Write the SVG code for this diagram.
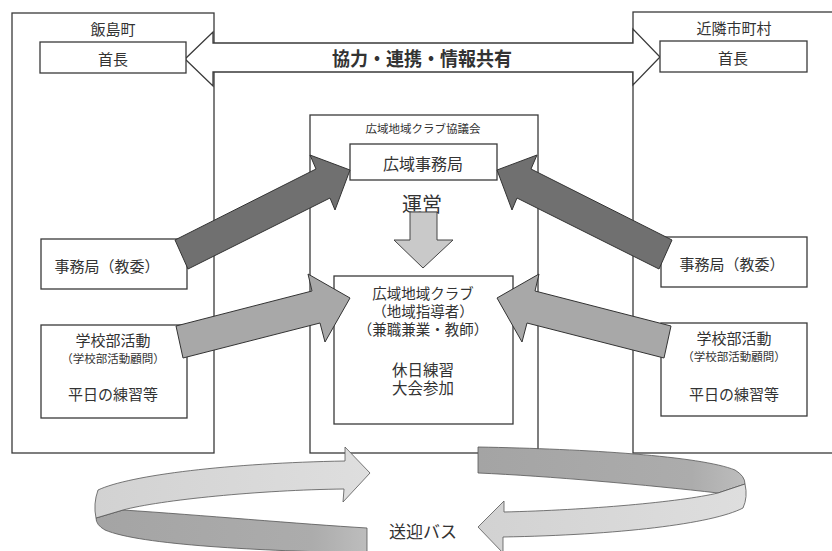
<svg xmlns="http://www.w3.org/2000/svg" width="832" height="551" viewBox="0 0 832 551">
<defs>
<style>
.box{fill:none;stroke:#3a3a3a;stroke-width:1.3}
.wbox{fill:#fff;stroke:#3a3a3a;stroke-width:1.3}
.t{font-family:"Noto Sans CJK JP","Noto Sans CJK SC",sans-serif;fill:#333;text-anchor:middle;dominant-baseline:central}
.dark{fill:#707070;stroke:#333;stroke-width:1}
.mid{fill:#a8a8a8;stroke:#333;stroke-width:1}
.light{fill:#c9c9c9;stroke:#444;stroke-width:1}
.bl{fill:url(#gLight);stroke:#555;stroke-width:0.8}
.bd{fill:url(#gDark);stroke:#555;stroke-width:0.8}
</style>
<linearGradient id="gLight" x1="0" y1="0" x2="1" y2="0">
<stop offset="0" stop-color="#d2d2d2"/><stop offset="1" stop-color="#dedede"/>
</linearGradient>
<linearGradient id="gDark" x1="0" y1="0" x2="1" y2="0">
<stop offset="0" stop-color="#a4a4a4"/><stop offset="0.8" stop-color="#acacac"/><stop offset="1" stop-color="#bdbdbd"/>
</linearGradient>
</defs>
<rect width="832" height="551" fill="#fff"/>

<g id="iijima">
<rect class="box" x="12" y="13" width="202" height="440"/>
<text class="t" x="113" y="28" font-size="15">飯島町</text>
</g>
<g id="kinrin">
<rect class="box" x="633" y="12" width="210" height="441"/>
<text class="t" x="734" y="27" font-size="15">近隣市町村</text>
</g>

<g id="kyoryoku">
<polygon class="wbox" points="185,59 213,32 213,43 633,43 633,29 660,57 633,85 633,72 213,72 213,86"/>
<text class="t" x="422" y="57" font-size="19" font-weight="bold" textLength="180" lengthAdjust="spacingAndGlyphs">協力・連携・情報共有</text>
</g>

<g id="shucho-l">
<rect class="wbox" x="40" y="42" width="146" height="31"/>
<text class="t" x="113" y="58" font-size="15">首長</text>
</g>
<g id="shucho-r">
<rect class="wbox" x="660" y="41" width="147" height="31"/>
<text class="t" x="733" y="57" font-size="15">首長</text>
</g>

<g id="kyogikai">
<rect class="box" x="310" y="115" width="228" height="338"/>
<text class="t" x="423" y="128" font-size="11.5">広域地域クラブ協議会</text>
</g>
<g id="jimukyoku-kouiki">
<rect class="wbox" x="350" y="144" width="147" height="36"/>
<text class="t" x="423" y="163" font-size="16">広域事務局</text>
</g>
<g id="unei">
<text class="t" x="422" y="203" font-size="20">運営</text>
</g>
<g id="club">
<rect class="wbox" x="334" y="276" width="179" height="148"/>
<text class="t" font-size="14.5"><tspan x="423" y="292">広域地域クラブ</tspan><tspan x="423" y="310">（地域指導者）</tspan><tspan x="423" y="328">（兼職兼業・教師）</tspan><tspan x="423" y="369" font-size="15.5">休日練習</tspan><tspan x="423" y="387" font-size="15.5">大会参加</tspan></text>
</g>

<g id="jimu-l">
<rect class="wbox" x="41" y="239" width="146" height="50"/>
<text class="t" x="107" y="265" font-size="15">事務局（教委）</text>
</g>
<g id="bukatsu-l">
<rect class="wbox" x="41" y="325" width="146" height="93"/>
<text class="t" font-size="15"><tspan x="113" y="339">学校部活動</tspan><tspan x="113" y="358" font-size="11.5">（学校部活動顧問）</tspan></text>
<text class="t" x="113" y="393" font-size="15">平日の練習等</text>
</g>
<g id="jimu-r">
<rect class="wbox" x="661" y="237" width="146" height="50"/>
<text class="t" x="732" y="263" font-size="15">事務局（教委）</text>
</g>
<g id="bukatsu-r">
<rect class="wbox" x="661" y="323" width="146" height="93"/>
<text class="t" font-size="15"><tspan x="734" y="337">学校部活動</tspan><tspan x="734" y="356" font-size="11.5">（学校部活動顧問）</tspan></text>
<text class="t" x="734" y="393" font-size="15">平日の練習等</text>
</g>

<g id="connectors">
<polygon class="dark" points="175,240 316,169 310,155 350,170 335,210 330,198 188,269"/>
<polygon class="dark" transform="translate(847,0) scale(-1,1)" points="175,240 316,169 310,155 350,170 335,210 330,198 188,269"/>
<polygon class="mid" points="176,326 312,291 308,274 350,298 325,342 320,323 183,358"/>
<polygon class="mid" transform="translate(847,0) scale(-1,1)" points="176,326 312,291 308,274 350,298 325,342 320,323 183,358"/>
<polygon class="light" points="410,212 437,212 437,240 453,240 423,268 394,240 410,240"/>
<g id="bus-l">
<path class="bd" d="M123,510 C200,515 300,524 367,528 L367,553 C260,551 140,545 105,530 Q96,525 96,518 Z"/>
<path class="bl" d="M370,473 L343,502 L344,489 C260,490 160,500 123,510 L96,518 Q93,504 98,490 C130,475 230,463 345,461 L345,447 Z"/>
</g>
<g id="bus-r">
<path class="bd" d="M718,493 C648,485 548,476 478,473 L478,447 C588,449 700,456 735,470 Q745,476 745,484 Z"/>
<path class="bl" d="M478,527 L504,501 L504,512 C588,510 680,502 718,493 L745,484 Q748,497 743,508 C712,524 618,535 503,537 L503,553 Z"/>
</g>
</g>
<text class="t" x="423" y="530" font-size="17">送迎バス</text>
</svg>
